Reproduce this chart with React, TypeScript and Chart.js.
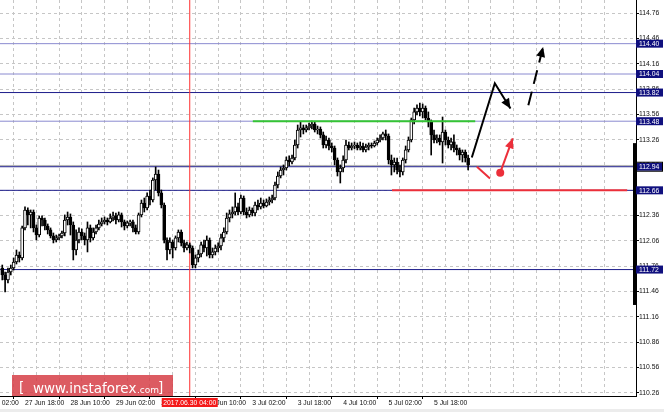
import React, { useEffect, useRef } from "react";
import { Chart, registerables } from "chart.js";

Chart.register(...registerables);

// ---- candle data (H1 bars, index 0 = 27 Jun 02:00) ----
const BAR_START = 8;
const FIRST_OPEN = 111.739;
const CLOSES = [
  111.656, 111.597, 111.691, 111.739, 111.810, 111.893, 111.858, 112.214, 112.427, 112.368,
  112.403, 112.214, 112.130, 112.332, 112.308, 112.237, 112.190, 112.119, 112.071, 112.095,
  112.119, 112.154, 112.308, 112.344, 112.249, 111.952, 112.071, 112.166, 112.119, 112.071,
  112.214, 112.095, 112.166, 112.214, 112.261, 112.285, 112.308, 112.285, 112.332, 112.356,
  112.308, 112.368, 112.285, 112.237, 112.273, 112.285, 112.214, 112.166, 112.368, 112.510,
  112.451, 112.593, 112.545, 112.783, 112.854, 112.629, 112.486, 112.071, 111.952, 112.047,
  111.976, 112.095, 112.166, 112.036, 111.976, 112.012, 111.976, 111.774, 111.858, 111.905,
  112.012, 111.976, 112.071, 111.893, 111.929, 111.976, 112.000, 112.095, 112.166, 112.332,
  112.380, 112.403, 112.463, 112.403, 112.569, 112.403, 112.368, 112.427, 112.391, 112.486,
  112.463, 112.510, 112.474, 112.522, 112.545, 112.569, 112.723, 112.830, 112.901, 112.925,
  113.020, 112.996, 113.044, 113.198, 113.376, 113.400, 113.376, 113.400, 113.423, 113.447,
  113.376, 113.388, 113.317, 113.198, 113.257, 113.186, 113.162, 113.020, 112.878, 112.925,
  113.020, 113.198, 113.162, 113.186, 113.198, 113.162, 113.186, 113.139, 113.174, 113.198,
  113.186, 113.222, 113.257, 113.281, 113.329, 113.305, 113.020, 112.961, 112.996, 112.901,
  112.878, 113.020, 113.139, 113.257, 113.495, 113.590, 113.637, 113.590, 113.637, 113.518,
  113.471, 113.317, 113.257, 113.281, 113.234, 113.352, 113.257, 113.198, 113.234, 113.162,
  113.139, 113.079, 113.115, 113.044, 112.961,
];
const HIGHS = [
  111.774, 111.691, 111.739, 111.774, 111.858, 111.952, 111.929, 112.237, 112.463, 112.451,
  112.427, 112.427, 112.249, 112.356, 112.356, 112.332, 112.261, 112.214, 112.154, 112.130,
  112.142, 112.178, 112.368, 112.403, 112.380, 112.285, 112.190, 112.214, 112.202, 112.154,
  112.285, 112.249, 112.214, 112.249, 112.308, 112.332, 112.344, 112.332, 112.380, 112.403,
  112.391, 112.403, 112.391, 112.308, 112.297, 112.308, 112.308, 112.249, 112.391, 112.545,
  112.569, 112.629, 112.664, 112.807, 112.937, 112.901, 112.664, 112.510, 112.095, 112.095,
  112.071, 112.119, 112.190, 112.190, 112.071, 112.047, 112.036, 112.000, 111.893, 111.952,
  112.047, 112.071, 112.119, 112.095, 111.976, 112.012, 112.036, 112.142, 112.214, 112.391,
  112.427, 112.463, 112.629, 112.510, 112.605, 112.593, 112.451, 112.463, 112.451, 112.522,
  112.545, 112.569, 112.545, 112.558, 112.581, 112.605, 112.759, 112.878, 112.937, 112.961,
  113.056, 113.068, 113.079, 113.257, 113.435, 113.471, 113.435, 113.435, 113.459, 113.483,
  113.471, 113.423, 113.412, 113.352, 113.305, 113.281, 113.222, 113.186, 113.044, 112.961,
  113.068, 113.257, 113.234, 113.222, 113.234, 113.222, 113.234, 113.222, 113.210, 113.222,
  113.222, 113.245, 113.281, 113.317, 113.352, 113.376, 113.329, 113.079, 113.044, 113.044,
  112.961, 113.044, 113.186, 113.293, 113.518, 113.637, 113.673, 113.696, 113.684, 113.661,
  113.590, 113.495, 113.376, 113.317, 113.317, 113.530, 113.376, 113.293, 113.281, 113.317,
  113.198, 113.162, 113.139, 113.139, 113.079,
];
const LOWS = [
  111.597, 111.454, 111.561, 111.656, 111.715, 111.786, 111.810, 111.834, 112.190, 112.249,
  112.214, 112.166, 112.071, 112.107, 112.237, 112.190, 112.142, 112.095, 112.036, 112.047,
  112.071, 112.095, 112.119, 112.249, 112.130, 111.834, 111.893, 112.036, 112.071, 112.012,
  111.929, 112.047, 112.071, 112.142, 112.190, 112.237, 112.261, 112.249, 112.273, 112.297,
  112.261, 112.285, 112.225, 112.190, 112.214, 112.237, 112.166, 112.142, 112.142, 112.344,
  112.403, 112.427, 112.486, 112.522, 112.664, 112.593, 112.451, 112.036, 111.834, 111.905,
  111.858, 111.952, 112.047, 112.000, 111.929, 111.952, 111.917, 111.739, 111.739, 111.810,
  111.869, 111.929, 111.881, 111.858, 111.858, 111.893, 111.929, 111.952, 112.047, 112.142,
  112.285, 112.332, 112.368, 112.368, 112.380, 112.368, 112.332, 112.344, 112.356, 112.356,
  112.427, 112.439, 112.451, 112.463, 112.486, 112.510, 112.545, 112.688, 112.807, 112.842,
  112.901, 112.949, 112.973, 113.020, 113.162, 113.293, 113.329, 113.352, 113.376, 113.388,
  113.352, 113.329, 113.281, 113.162, 113.162, 113.139, 113.115, 112.961, 112.830, 112.747,
  112.878, 112.984, 113.139, 113.139, 113.151, 113.139, 113.139, 113.115, 113.115, 113.139,
  113.162, 113.174, 113.198, 113.234, 113.257, 113.257, 112.973, 112.842, 112.878, 112.854,
  112.818, 112.842, 112.984, 113.115, 113.234, 113.447, 113.554, 113.542, 113.518, 113.495,
  113.412, 113.079, 113.222, 113.222, 113.198, 112.984, 113.198, 113.162, 113.139, 113.115,
  113.079, 113.020, 112.996, 112.996, 112.901,
];

// ---- axes ----
const X_MIN = 7.2;
const X_MAX = 231.1;
const Y_MIN = 110.22;
const Y_MAX = 114.918;
const Y_TICKS = [110.26, 110.56, 110.86, 111.16, 111.46, 111.76, 112.06, 112.36, 112.66, 112.96, 113.26, 113.56, 113.86, 114.16, 114.46, 114.76];
const X_TICK_BARS = [0, 16, 32, 48, 64, 80, 96, 112, 128, 144, 160];
const X_TICK_LABELS = ["27 Jun 02:00", "27 Jun 18:00", "28 Jun 10:00", "29 Jun 02:00", "29 Jun 18:00", "30 Jun 10:00", "3 Jul 02:00", "3 Jul 18:00", "4 Jul 10:00", "5 Jul 02:00", "5 Jul 18:00"];
const GRID_STEP = 8;

// ---- horizontal levels ----
const LEVELS = [114.40, 114.04, 113.82, 113.48, 112.94, 112.66, 111.72];
const LEVEL_DARK = [false, false, true, false, true, true, true];
const BID = 112.955;
const MARK_BAR = 74;
const MARK_LABEL = "2017.06.30 04:00";

// ---- drawn analysis objects ----
const GREEN_X = [96.2, 174.5];
const GREEN_Y = 113.48;
const RED_LEVEL_X = [145.2, 228];
const RED_LEVEL_Y = 112.66;
const BLACK_X = [173.3, 181.4, 186.9];
const BLACK_Y = [113.05, 113.93, 113.63];
const DASH_X = [193.2, 198.4];
const DASH_Y = [113.67, 114.36];
const RED_ARROW_X = [183.3, 187.7];
const RED_ARROW_Y = [112.87, 113.277];
const RED_STROKE_X = [175.1, 179.7];
const RED_STROKE_Y = [112.94, 112.80];
const SIDE_BAR = [113.22, 111.30];

const FONT = "Liberation Sans";
const RED = "#ec2f3a";
const NAVY = "#1c1c8a";
const LAVENDER = "#8a8ad0";

const noPad = (s: any) => {
  s.paddingLeft = 0;
  s.paddingRight = 0;
  s.paddingTop = 0;
  s.paddingBottom = 0;
};

export default function App() {
  const ref = useRef<HTMLCanvasElement>(null);

  useEffect(() => {
    const canvas = ref.current!;
    const opens = CLOSES.map((c, k) => (k === 0 ? FIRST_OPEN : CLOSES[k - 1]));
    const xs = CLOSES.map((_, k) => BAR_START + k);
    const wickData = xs.map((x, k) => ({ x, y: [LOWS[k], HIGHS[k]] }));
    const bodyData = xs.map((x, k) => ({ x, y: [Math.min(opens[k], CLOSES[k]), Math.max(opens[k], CLOSES[k])] }));
    const bodyColors = xs.map((_, k) => (CLOSES[k] >= opens[k] ? "#ffffff" : "#000000"));

    const hline = (y: number, color: string, width: number, x0 = X_MIN, x1 = X_MAX, order = 5) => ({
      type: "line",
      data: [{ x: x0, y }, { x: x1, y }],
      borderColor: color,
      borderWidth: width,
      pointRadius: 0,
      order,
    });
    const path = (X: number[], Y: number[], color: string, width: number, extra: any = {}) => ({
      type: "line",
      data: X.map((x, k) => ({ x, y: Y[k] })),
      borderColor: color,
      borderWidth: width,
      pointRadius: 0,
      tension: 0,
      order: -1,
      ...extra,
    });

    const datasets: any[] = [
      {
        type: "bar",
        data: bodyData,
        backgroundColor: bodyColors,
        borderColor: "#000",
        borderWidth: 1,
        borderSkipped: false,
        barThickness: 3,
        grouped: false,
        order: 0,
      },
      {
        type: "bar",
        data: wickData,
        backgroundColor: "#000",
        borderWidth: 0,
        barThickness: 1,
        grouped: false,
        order: 1,
      },
      ...LEVELS.map((v, k) => hline(v, LEVEL_DARK[k] ? NAVY : LAVENDER, 1)),
      hline(BID, "#b4b4b4", 1),
      {
        type: "line",
        data: [{ x: MARK_BAR, y: Y_MIN }, { x: MARK_BAR, y: Y_MAX }],
        borderColor: "#ff3030",
        borderWidth: 1,
        pointRadius: 0,
        order: 4,
      },
      hline(GREEN_Y, "#35c435", 2, GREEN_X[0], GREEN_X[1], -1),
      hline(RED_LEVEL_Y, RED, 2, RED_LEVEL_X[0], RED_LEVEL_X[1], -1),
      path(BLACK_X, BLACK_Y, "#000", 2, { arrowColor: "#000" }),
      path(DASH_X, DASH_Y, "#000", 2, { borderDash: [14, 8], arrowColor: "#000" }),
      path(RED_ARROW_X, RED_ARROW_Y, RED, 2, { arrowColor: RED }),
      path(RED_STROKE_X, RED_STROKE_Y, RED, 2),
      {
        type: "line",
        data: [{ x: RED_ARROW_X[0], y: RED_ARROW_Y[0] }],
        showLine: false,
        pointRadius: 4,
        pointBackgroundColor: RED,
        pointBorderWidth: 0,
        order: -2,
      },
    ];

    const overlay = {
      id: "overlay",
      beforeDraw(chart: any) {
        const { ctx, width, height } = chart;
        ctx.save();
        ctx.fillStyle = "#ffffff";
        ctx.fillRect(0, 0, width, height);
        ctx.fillStyle = "#ececec";
        ctx.fillRect(0, 409, width, height - 409);
        ctx.restore();
      },
      afterDatasetsDraw(chart: any) {
        const ctx = chart.ctx;
        chart.data.datasets.forEach((ds: any, i: number) => {
          if (!ds.arrowColor) return;
          const pts = chart.getDatasetMeta(i).data;
          const a = pts[pts.length - 2];
          const b = pts[pts.length - 1];
          const ang = Math.atan2(b.y - a.y, b.x - a.x);
          const L = 10;
          const W = 4.5;
          const bx = b.x - L * Math.cos(ang);
          const by = b.y - L * Math.sin(ang);
          ctx.save();
          ctx.fillStyle = ds.arrowColor;
          ctx.beginPath();
          ctx.moveTo(b.x, b.y);
          ctx.lineTo(bx + W * Math.sin(ang), by - W * Math.cos(ang));
          ctx.lineTo(bx - W * Math.sin(ang), by + W * Math.cos(ang));
          ctx.closePath();
          ctx.fill();
          ctx.restore();
        });
      },
      afterDraw(chart: any) {
        const { ctx, chartArea } = chart;
        const ys = chart.scales.y;
        const xsScale = chart.scales.x;
        ctx.save();
        // side bar near the price axis
        const t = ys.getPixelForValue(SIDE_BAR[0]);
        const b = ys.getPixelForValue(SIDE_BAR[1]);
        ctx.fillStyle = "#000";
        ctx.fillRect(chartArea.right - 3, t, 3, b - t);
        // level labels
        ctx.font = `6.8px "${FONT}"`;
        ctx.textBaseline = "middle";
        ctx.textAlign = "left";
        LEVELS.forEach((v) => {
          const y = ys.getPixelForValue(v);
          ctx.fillStyle = "#10107e";
          ctx.fillRect(chartArea.right, y - 4, 27, 8);
          if (Math.abs(v - 112.94) < 1e-6) {
            ctx.strokeStyle = "#000";
            ctx.lineWidth = 1;
            ctx.strokeRect(chartArea.right + 0.5, y - 4.5, 26, 9);
          }
          ctx.fillStyle = "#ffffff";
          ctx.fillText(v.toFixed(2), chartArea.right + 3, y + 0.5);
        });
        // time marker label
        const mx = xsScale.getPixelForValue(MARK_BAR);
        ctx.fillStyle = "#f41a1a";
        ctx.fillRect(mx - 28, 398, 56, 9);
        ctx.fillStyle = "#ffffff";
        ctx.textAlign = "center";
        ctx.fillText(MARK_LABEL, mx, 402.8);
        // watermark
        ctx.fillStyle = "rgba(214, 62, 70, 0.85)";
        ctx.fillRect(12, 375, 161, 21);
        ctx.fillStyle = "#ffffff";
        ctx.textAlign = "left";
        ctx.textBaseline = "alphabetic";
        ctx.font = `13.5px "DejaVu Sans"`;
        ctx.fillText("[", 19, 392);
        ctx.fillText("www.instaforex", 33, 393);
        ctx.font = `9px "DejaVu Sans"`;
        ctx.fillText(".com", 137, 393);
        ctx.font = `13.5px "DejaVu Sans"`;
        ctx.fillText("]", 158, 392);
        ctx.restore();
      },
    };

    const gridTicks: number[] = [0];
    for (let v = GRID_STEP; v <= X_MAX; v += GRID_STEP) gridTicks.push(v);

    const chart = new Chart(canvas, {
      type: "bar",
      data: { datasets },
      options: {
        responsive: false,
        devicePixelRatio: 1,
        animation: false,
        events: [],
        layout: { padding: 0, autoPadding: false },
        plugins: { legend: { display: false }, tooltip: { enabled: false } },
        scales: {
          x: {
            type: "linear",
            position: "bottom",
            min: X_MIN,
            max: X_MAX,
            offset: false,
            afterBuildTicks: (s: any) => {
              s.ticks = gridTicks.map((v) => ({ value: v }));
            },
            afterFit: (s: any) => {
              s.height = 16;
              noPad(s);
            },
            ticks: {
              autoSkip: false,
              maxRotation: 0,
              align: "start",
              padding: 0,
              color: "#111",
              font: { family: FONT, size: 6.8 },
              callback: (v: any) => {
                const k = X_TICK_BARS.indexOf(Number(v));
                return k >= 0 ? X_TICK_LABELS[k] : "";
              },
            },
            grid: {
              color: (c: any) => (c.tick && c.tick.value > 0 ? "#c6c6c6" : "rgba(0,0,0,0)"),
              tickColor: (c: any) => (c.tick && X_TICK_BARS.indexOf(c.tick.value) >= 0 ? "#000" : "rgba(0,0,0,0)"),
              tickLength: 3,
              tickBorderDash: [],
            },
            border: { display: true, color: "#000", width: 1, dash: [3, 3] },
          },
          y: {
            type: "linear",
            position: "right",
            min: Y_MIN,
            max: Y_MAX,
            afterBuildTicks: (s: any) => {
              s.ticks = Y_TICKS.map((v) => ({ value: v }));
            },
            afterFit: (s: any) => {
              s.width = 28;
              noPad(s);
            },
            ticks: {
              autoSkip: false,
              padding: 0,
              color: "#111",
              font: { family: FONT, size: 6.8 },
              callback: (v: any) => Number(v).toFixed(2),
            },
            grid: {
              color: "#c6c6c6",
              tickColor: "#000",
              tickLength: 3,
              tickBorderDash: [],
            },
            border: { display: true, color: "#000", width: 1, dash: [3, 3] },
          },
        },
      } as any,
      plugins: [overlay as any],
    } as any);

    return () => chart.destroy();
  }, []);

  return (
    <div style={{ position: "fixed", left: 0, top: 0, width: 664, height: 412, background: "#fff" }}>
      <canvas ref={ref} width={664} height={412} style={{ display: "block", width: 664, height: 412 }} />
    </div>
  );
}
